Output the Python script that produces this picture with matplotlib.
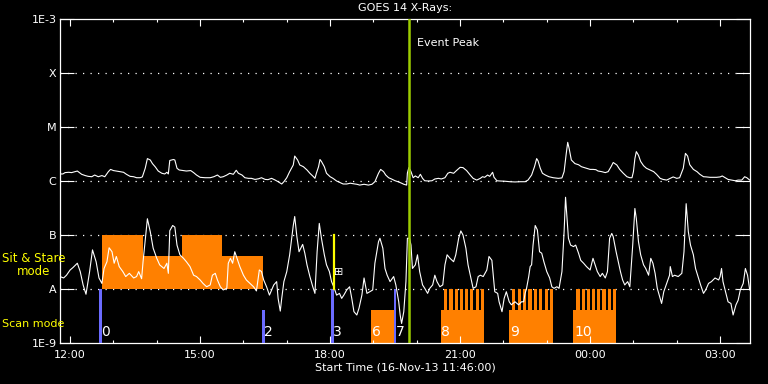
import numpy as np
import matplotlib
matplotlib.use("Agg")
import matplotlib.pyplot as plt
import matplotlib.dates as mdates
from matplotlib.ticker import NullLocator
from datetime import datetime

start = datetime(2013, 11, 16, 11, 46)
end_min = 955.4

# 1-8 A channel: minutes after start, flux in 1e-6 W/m^2
long_min = [0, 4, 7, 12, 16, 21, 24, 27, 30, 35,
            39, 44, 48, 53, 58, 62, 67, 70, 74, 78,
            83, 88, 92, 97, 102, 106, 111, 114, 118, 121,
            125, 128, 132, 136, 141, 145, 148, 150, 152, 157,
            159, 162, 165, 171, 175, 181, 185, 189, 194, 201,
            208, 213, 218, 222, 226, 231, 235, 240, 244, 247,
            252, 256, 261, 265, 270, 275, 279, 284, 288, 293,
            298, 302, 307, 310, 314, 318, 323, 325, 329, 332,
            337, 342, 346, 351, 353, 355, 358, 360, 362, 366,
            369, 374, 378, 383, 388, 392, 397, 402, 406, 411,
            415, 421, 427, 432, 436, 441, 444, 448, 451, 455,
            459, 464, 468, 473, 476, 480, 481, 483, 486, 489,
            492, 496, 499, 502, 505, 510, 515, 519, 524, 528,
            533, 537, 540, 545, 549, 554, 558, 563, 568, 572,
            577, 582, 585, 588, 592, 595, 599, 601, 605, 609,
            616, 623, 630, 637, 644, 648, 653, 657, 660, 662,
            665, 668, 672, 677, 683, 690, 695, 698, 701, 703,
            705, 708, 713, 718, 722, 729, 734, 738, 742, 745,
            750, 755, 759, 763, 766, 771, 775, 780, 785, 789,
            792, 794, 796, 798, 801, 804, 808, 812, 817, 822,
            826, 831, 835, 840, 845, 849, 854, 858, 863, 866,
            869, 872, 877, 882, 886, 891, 895, 900, 905, 909,
            914, 917, 921, 925, 930, 935, 939, 944, 948, 951, 955]
long_flux = [1.35, 1.35, 1.43, 1.45, 1.43, 1.49, 1.53, 1.43, 1.33, 1.26,
             1.22, 1.2, 1.29, 1.2, 1.26, 1.2, 1.49, 1.64, 1.56, 1.53,
             1.49, 1.45, 1.33, 1.22, 1.2, 1.15, 1.15, 1.19, 1.72, 2.6,
             2.45, 2.1, 1.82, 1.53, 1.39, 1.35, 1.45, 1.35, 2.4, 2.5,
             2.45, 1.72, 1.6, 1.56, 1.53, 1.56, 1.43, 1.29, 1.17, 1.15,
             1.15, 1.2, 1.29, 1.17, 1.2, 1.29, 1.39, 1.33, 1.58, 1.39,
             1.29, 1.15, 1.12, 1.12, 1.07, 1.1, 1.15, 1.07, 1.06, 1.12,
             1.04, 0.97, 0.88, 0.97, 1.15, 1.49, 1.98, 2.9, 2.45, 1.98,
             1.84, 1.6, 1.39, 1.2, 1.12, 1.39, 1.84, 2.5, 2.3, 1.84,
             1.39, 1.2, 1.12, 1.0, 0.93, 0.88, 0.88, 0.91, 0.89, 0.87,
             0.84, 0.87, 0.84, 0.87, 0.97, 1.39, 1.64, 1.49, 1.29, 1.15,
             1.09, 1.01, 0.97, 0.91, 0.87, 0.84, 1.4, 1.77, 1.49, 1.15,
             1.24, 1.15, 1.33, 1.12, 1.01, 1.0, 1.01, 1.09, 1.12, 1.09,
             1.15, 1.39, 1.45, 1.39, 1.56, 1.79, 1.77, 1.56, 1.29, 1.12,
             1.04, 1.12, 1.2, 1.17, 1.29, 1.22, 1.45, 1.17, 1.01, 1.0,
             0.99, 0.97, 0.96, 0.97, 0.97, 1.04, 1.29, 1.84, 2.6, 2.35,
             1.72, 1.39, 1.29, 1.2, 1.15, 1.12, 1.14, 1.49, 3.25, 5.2,
             4.0, 2.45, 2.1, 2.0, 1.84, 1.72, 1.64, 1.64, 1.62, 1.53,
             1.49, 1.43, 1.49, 1.84, 2.2, 1.98, 1.64, 1.39, 1.2, 1.15,
             1.15, 1.49, 2.6, 3.5, 3.0, 2.3, 1.92, 1.72, 1.6, 1.49,
             1.33, 1.12, 1.07, 1.04, 1.12, 1.19, 1.12, 1.15, 1.72, 3.25,
             2.9, 2.0, 1.64, 1.49, 1.33, 1.2, 1.19, 1.17, 1.17, 1.17,
             1.19, 1.24, 1.15, 1.07, 1.04, 1.01, 1.04, 1.04, 1.2, 1.15, 1.04]

# 0.5-4 A channel: minutes after start, flux in 1e-8 W/m^2
short_min = [0, 5, 9, 14, 18, 24, 28, 32, 36, 41,
             45, 50, 54, 58, 61, 65, 68, 72, 75, 78,
             82, 87, 91, 96, 102, 106, 109, 113, 115, 121,
             125, 129, 134, 138, 144, 148, 150, 152, 156, 159,
             162, 166, 171, 175, 180, 185, 189, 194, 198, 203,
             208, 211, 215, 218, 222, 226, 231, 233, 236, 239,
             242, 246, 249, 254, 258, 263, 268, 272, 276, 279,
             282, 286, 290, 293, 296, 300, 302, 305, 307, 310,
             314, 318, 323, 325,
             328, 331, 336, 339, 342, 346, 350, 353, 356, 359,
             362, 366, 369, 373, 376, 379, 383, 387, 390, 393,
             397, 401, 404, 407, 411, 414, 418, 421, 425, 429,
             433, 436, 441, 443, 447, 450, 453, 457, 462, 465,
             469, 471, 473, 476, 479, 481, 484, 486, 488, 492,
             495, 498, 502, 505, 509, 512, 516, 519, 522, 526,
             530, 533, 536, 540, 545, 548, 552, 555, 558, 562,
             565, 569, 572, 576, 579, 582, 586, 591, 594, 598,
             600, 602, 606, 608, 612, 615, 618, 622, 625, 630,
             635, 639, 642, 644, 646, 649, 651, 653, 655, 658,
             661, 664, 667, 670, 674, 678, 681, 684, 688, 691,
             695, 698, 700, 704, 707, 711, 714, 718, 721, 725,
             729, 734, 738, 741, 744, 748, 751, 755, 758, 761,
             764, 766, 770, 773, 776, 779, 782, 786, 789, 793,
             796, 798, 801, 804, 808, 811, 815, 818, 821, 824,
             827, 831, 833, 836, 840, 844, 845, 848, 851, 856,
             861, 864, 867, 870, 873, 877, 880, 884, 887, 891,
             894, 898, 902, 907, 912, 914, 916, 918, 922, 925,
             929, 932, 936, 939, 942, 946, 949, 952, 955]
short_flux = [1.7, 1.6, 1.8, 2.25, 2.5, 3.0, 2.1, 1.19, 0.8, 2.1,
              5.3, 3.2, 1.6, 1.27, 2.4, 3.2, 5.8, 4.9, 3.0, 4.0,
              2.6, 2.1, 1.7, 1.95, 1.6, 1.7, 2.1, 1.55, 3.2, 20,
              11.5, 5.7, 3.7, 2.8, 2.4, 3.0, 1.95, 12, 15, 14,
              6.5, 4.3, 3.7, 3.2, 2.6, 1.8, 1.7, 1.47, 1.27, 1.1,
              1.19, 1.8, 1.95, 1.47, 1.1, 0.96, 1.03, 3.0, 3.7, 3.0,
              4.9, 3.4, 2.6, 1.8, 1.47, 1.27, 1.1, 0.92, 2.25, 2.1,
              1.47, 1.1, 0.77, 0.96, 1.19, 1.37, 0.67, 0.39, 0.67, 1.37,
              2.1, 4.3, 15, 22,
              9.3, 4.9, 6.7, 4.6, 2.8, 1.7, 1.1, 0.83, 4.9, 16.4,
              8.7, 4.3, 2.8, 2.1, 1.37, 1.1, 0.77, 0.83, 0.67, 0.77,
              0.96, 1.1, 0.67, 0.38, 0.33, 0.44, 0.77, 1.6, 0.83, 0.89,
              0.96, 3.0, 7.5, 8.7, 5.7, 2.4, 1.8, 1.37, 1.7, 1.19,
              0.58, 0.33, 0.23, 0.38, 1.37, 8.7, 8.7, 6.5, 2.4, 2.8,
              4.3, 2.1, 1.19, 1.03, 0.83, 1.03, 1.19, 1.8, 1.37, 1.1,
              1.19, 2.8, 4.3, 3.7, 3.2, 4.3, 8.7, 11.9, 10, 5.7,
              2.8, 1.6, 1.03, 1.1, 1.7, 1.8, 1.7, 2.25, 4.0, 3.4,
              1.7, 0.89, 0.83, 0.58, 0.38, 0.67, 0.89, 0.58, 0.51, 0.58,
              0.51, 0.58, 0.58, 0.83, 1.03, 1.7, 2.6, 2.8, 6.5, 15,
              12.4, 4.9, 4.6, 3.2, 2.1, 1.6, 1.1, 1.03, 1.1, 1.03,
              2.1, 11.5, 50, 8.7, 6.5, 6.1, 6.5, 4.6, 3.4, 3.0,
              2.6, 2.25, 3.7, 2.8, 2.1, 1.7, 1.95, 1.6, 2.1, 8.7,
              10.7, 9.3, 4.9, 3.2, 2.1, 1.47, 1.19, 1.37, 1.1, 6.5,
              31, 20, 7.5, 4.3, 2.8, 2.4, 1.8, 3.7, 3.0, 1.95,
              1.03, 0.67, 0.54, 0.89, 1.27, 1.8, 2.6, 1.7, 1.8, 1.7,
              1.95, 4.9, 38, 11.5, 6.5, 4.3, 2.4, 1.6, 1.19, 0.83,
              0.96, 1.27, 1.37, 1.6, 1.47, 1.7, 2.4, 1.37, 0.83, 0.58,
              0.54, 0.33, 0.51, 0.62, 0.96, 1.27, 2.4, 1.8, 0.96]

# sit & stare observations (from A level up)
sit_start = [58, 115, 169, 225]
sit_end = [115, 169, 225, 281]
sit_top = [1e-7, 4.1e-8, 1e-7, 4.1e-8]

# scan mode observations
scan_start = [431, 527, 622, 711]
scan_end = [462, 587, 683, 770]
scan_top = 4.1e-9
comb_start = [532, 626, 715]
comb_end = [587, 683, 770]
n_teeth = 8

marker_min = [56, 282, 377, 464]
marker_top = [1e-8, 4.1e-9, 1e-8, 1e-8]

obs_labels = ['0', '2', '3', '6', '7', '8', '9', '10']
obs_min = [56, 282, 377, 431, 464, 527, 622, 711]

event_min = 483
yellow_min = 379

level_vals = [1e-9, 1e-8, 1e-7, 1e-6, 1e-5, 1e-4, 1e-3]
level_names = ['1E-9', 'A', 'B', 'C', 'M', 'X', '1E-3']

orange = '#ff8000'
blue = '#6b6bff'
green = '#9ccc00'

t0 = mdates.date2num(start)


def tnum(m):
    return t0 + np.asarray(m, dtype=float) / 1440.0


fig = plt.figure(figsize=(7.68, 3.84), dpi=100, facecolor='black')
ax = fig.add_axes([60 / 768, 41 / 384, 690 / 768, 324 / 384])
ax.set_facecolor('black')
ax.set_yscale('log')
ax.set_ylim(1e-9, 1e-3)
ax.set_xlim(tnum(0), tnum(end_min))

# observation blocks
s0 = np.array(sit_start)
s1 = np.array(sit_end)
ax.bar(tnum(s0), np.array(sit_top) - 1e-8, width=(s1 - s0) / 1440.0, bottom=1e-8,
       align='edge', color=orange, linewidth=0, antialiased=False, zorder=1)
c0 = np.array(scan_start)
c1 = np.array(scan_end)
ax.bar(tnum(c0), scan_top - 1e-9, width=(c1 - c0) / 1440.0, bottom=1e-9,
       align='edge', color=orange, linewidth=0, antialiased=False, zorder=1)
for a, b in zip(comb_start, comb_end):
    # teeth a bit wider than the gaps between them
    w = (b - a) / (n_teeth + 0.65 * (n_teeth - 1))
    left = a + 1.65 * w * np.arange(n_teeth)
    ax.bar(tnum(left), 1e-8 - scan_top, width=w / 1440.0, bottom=scan_top,
           align='edge', color=orange, linewidth=0, antialiased=False, zorder=1)

ax.bar(tnum(marker_min), np.array(marker_top) - 1e-9, width=3.8 / 1440.0, bottom=1e-9,
       align='center', color=blue, linewidth=0, antialiased=False, zorder=3)

# grid at class levels
for lv in level_vals[1:-1]:
    ax.axhline(lv, color='white', lw=0.9, ls=(0, (1, 5)), zorder=0)

ax.plot(tnum(long_min), np.array(long_flux) * 1e-6, color='white', lw=0.8, zorder=2)
ax.plot(tnum(short_min), np.array(short_flux) * 1e-8, color='white', lw=0.8, zorder=2)

ax.plot([tnum(yellow_min)] * 2, [1e-7, 1e-8], color='yellow', lw=1.6, zorder=4)
ax.text(tnum(386), 2.1e-8, '⊞', color='white', fontsize=8, ha='center', va='center', zorder=4)

ax.axvline(tnum(event_min), color=green, lw=1.8, zorder=5)
ax.text(tnum(event_min + 11), 3.6e-4, 'Event Peak', color='white', fontsize=8,
        ha='left', va='center')

for lab, m in zip(obs_labels, obs_min):
    ax.text(tnum(m + 1), 1.6e-9, lab, color='white', fontsize=10, ha='left', va='center', zorder=6)

# axes styling
ax.set_yticks(level_vals)
ax.set_yticklabels(level_names)
ax.yaxis.set_minor_locator(NullLocator())
ax.xaxis.set_major_locator(mdates.HourLocator(byhour=range(0, 24, 3)))
ax.xaxis.set_minor_locator(mdates.HourLocator())
ax.xaxis.set_major_formatter(mdates.DateFormatter('%H:%M'))
ax.tick_params(axis='y', which='major', direction='in', length=10, width=0.8,
               left=True, right=True, colors='white', labelsize=8, pad=2.5)
ax.tick_params(axis='x', which='major', direction='in', length=5, width=0.8,
               top=True, bottom=True, colors='white', labelsize=8, pad=5)
ax.tick_params(axis='x', which='minor', direction='in', length=2.5, width=0.8,
               top=True, bottom=True, colors='white')
for sp in ax.spines.values():
    sp.set_color('white')
    sp.set_linewidth(0.9)

fig.text(405 / 768, 1 - 8 / 384, 'GOES 14 X-Rays:', color='white', fontsize=8,
         ha='center', va='center')
fig.text(405 / 768, 1 - 368 / 384, 'Start Time (16-Nov-13 11:46:00)', color='white',
         fontsize=8, ha='center', va='center')
fig.text(34 / 768, 1 - 265 / 384, 'Sit & Stare\nmode', color='yellow', fontsize=8.5,
         ha='center', va='center', linespacing=1.0)
fig.text(2 / 768, 1 - 324 / 384, 'Scan mode', color='yellow', fontsize=8,
         ha='left', va='center')

fig.savefig('out.png', dpi=100, facecolor='black')
